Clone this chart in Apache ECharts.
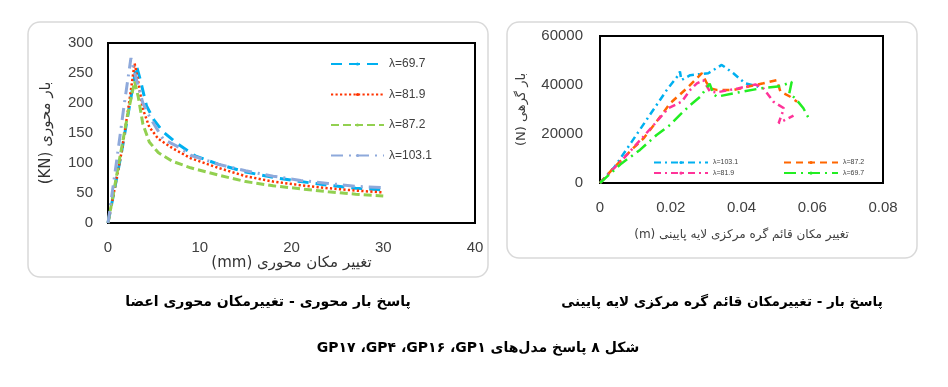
<!DOCTYPE html>
<html><head><meta charset="utf-8">
<script src="https://cdn.jsdelivr.net/npm/echarts@6/dist/echarts.min.js"></script>
<style>html,body{margin:0;padding:0;background:#fff}#c{width:948px;height:387px}</style>
</head><body><div id="c"></div>
<script>
// ---------- Left chart: axial load vs axial displacement ----------
const leftNames = ['λ=69.7', 'λ=81.9', 'λ=87.2', 'λ=103.1'];
const leftXTicks = [0, 10, 20, 30, 40];
const leftYTicks = [0, 50, 100, 150, 200, 250, 300];
const axial697 = [[0,0],[0.7,55],[1.5,120],[2.4,200],[3.1,262],[3.5,240],[4.2,195],[5,172],[6,152],[7.5,133],[9.5,112],[12,98],[15,85],[18,76],[21,69],[24,63],[27,58],[30,55]];
const axial819 = [[0,0],[0.7,55],[1.5,120],[2.3,200],[2.9,266],[3.3,235],[3.8,190],[4.5,160],[5.5,140],[7,125],[9,108],[12,92],[15,78],[18,69],[21,63],[24,58],[27,54],[30,51]];
const axial872 = [[0,0],[0.6,50],[1.3,110],[2.2,185],[2.9,236],[3.3,210],[3.8,165],[4.5,135],[5.5,117],[7,103],[9,92],[12,80],[15,69],[18,62],[21,57],[24,52],[27,48],[30,45]];
const axial1031 = [[0,0],[0.5,55],[1,110],[1.7,190],[2.5,275],[3,245],[3.8,200],[4.6,175],[6,140],[7.5,128],[9,113],[12,98],[15,87],[18,78],[21,71],[24,66],[27,61],[30,59]];

// ---------- Right chart: node load vs vertical displacement ----------
const rightNames = ['λ=103.1', 'λ=87.2', 'λ=81.9', 'λ=69.7'];
const rightXTicks = [0, 0.02, 0.04, 0.06, 0.08];
const rightYTicks = [0, 20000, 40000, 60000];
const node1031 = [[0,0],[0.0015,2500],[0.0042,6700],[0.009,16900],[0.0141,27800],[0.0189,38000],[0.0222,44100],[0.0226,45500],[0.023,42000],[0.0255,44000],[0.0306,44800],[0.0344,48200],[0.0377,44800],[0.041,40700],[0.0447,39300]];
const node872 = [[0,0],[0.0042,6700],[0.0094,14200],[0.0123,18200],[0.017,27000],[0.0198,32500],[0.0245,38600],[0.0288,44800],[0.030,41300],[0.0311,38600],[0.033,38000],[0.0377,38000],[0.0462,40700],[0.05,42000],[0.051,37300],[0.0538,35200],[0.0557,33200]];
const node819 = [[0,0],[0.0071,10700],[0.0118,18200],[0.016,25000],[0.0193,30500],[0.0231,33200],[0.0255,38000],[0.0274,40700],[0.0292,42000],[0.0311,37300],[0.033,37000],[0.039,38600],[0.0439,40200],[0.046,39000],[0.049,33200],[0.052,30500],[0.0505,24400],[0.0547,27500]];
const node697 = [[0,0],[0.0061,8000],[0.0113,13500],[0.016,19600],[0.0198,23700],[0.0226,27800],[0.0255,31800],[0.0283,35200],[0.031,40500],[0.032,36500],[0.033,35200],[0.0377,36600],[0.0453,38600],[0.051,39500],[0.0542,41300],[0.0535,36500],[0.0552,34600],[0.0575,30500],[0.059,26400]];

// ---------- Texts ----------
const leftXName = 'تغییر مکان محوری (mm)';
const leftYName = 'بار محوری (KN)';
const rightXName = 'تغییر مکان قائم گره مرکزی لایه پایینی (m)';
const rightYName = 'بار گرهی (N)';
const capLeft = 'پاسخ بار محوری - تغییرمکان محوری اعضا';
const capRight = 'پاسخ بار - تغییرمکان قائم گره مرکزی لایه پایینی';
const capMain = 'شکل ۸ پاسخ مدل‌های GP۱\u200F، GP۱۶\u200F، GP۴\u200F، GP۱۷';

const RTL = s => '\u202B' + s + '\u202C';
const ZW = '\u200B';
const numFont = 'Liberation Sans';
const faFont = 'DejaVu Sans';

const chart = echarts.init(document.getElementById('c'), null, {renderer: 'canvas'});

function axisCommon(fontSize, margin) {
  return {
    axisLine: {show: false}, axisTick: {show: false}, splitLine: {show: false},
    axisLabel: {fontSize: fontSize, color: '#404040', fontFamily: numFont, margin: margin, formatter: v => String(v)}
  };
}

const leftStyles = [
  {color: '#00B0F0', width: 3, type: [11, 7]},
  {color: '#FF3300', width: 2.5, type: [2.2, 2.3]},
  {color: '#92D050', width: 3, type: [8, 4]},
  {color: '#8EA9DB', width: 3, type: [12, 6, 2, 6]}
];
const leftData = [axial697, axial819, axial872, axial1031];
const rightStyles = [
  {color: '#00B0F0', width: 2.5, type: [7, 4, 2, 4]},
  {color: '#FF6600', width: 2.5, type: [7, 5]},
  {color: '#FF3399', width: 2.5, type: [7, 4, 2, 4]},
  {color: '#22EE22', width: 2.5, type: [12, 5, 2, 5]}
];
const rightData = [node1031, node872, node819, node697];

const series = [];
leftNames.forEach((n, i) => series.push({
  type: 'line', name: n, xAxisIndex: 0, yAxisIndex: 0, data: leftData[i],
  symbol: 'none', lineStyle: leftStyles[i], itemStyle: {color: leftStyles[i].color}, animation: false
}));
rightNames.forEach((n, i) => series.push({
  type: 'line', name: n + ZW, xAxisIndex: 1, yAxisIndex: 1, data: rightData[i],
  symbol: 'none', lineStyle: rightStyles[i], itemStyle: {color: rightStyles[i].color}, animation: false
}));

const option = {
  animation: false,
  backgroundColor: '#fff',
  grid: [
    {left: 108, top: 43, width: 367, height: 180, show: true, borderColor: '#000', borderWidth: 2, backgroundColor: '#fff', containLabel: false, outerBoundsMode: 'none'},
    {left: 600, top: 36, width: 283, height: 147, show: true, borderColor: '#000', borderWidth: 2, backgroundColor: '#fff', containLabel: false, outerBoundsMode: 'none'}
  ],
  xAxis: [
    Object.assign(axisCommon(15, 17), {type: 'value', gridIndex: 0, min: leftXTicks[0], max: leftXTicks[leftXTicks.length-1], interval: leftXTicks[1]-leftXTicks[0],
      name: RTL(leftXName), nameLocation: 'middle', nameGap: 27,
      nameTextStyle: {fontSize: 15, color: '#333', fontFamily: faFont}}),
    Object.assign(axisCommon(15, 17), {type: 'value', gridIndex: 1, min: rightXTicks[0], max: rightXTicks[rightXTicks.length-1], interval: rightXTicks[1]-rightXTicks[0],
      name: RTL(rightXName), nameLocation: 'middle', nameGap: 46,
      nameTextStyle: {fontSize: 12, color: '#404040', fontFamily: faFont}})
  ],
  yAxis: [
    Object.assign(axisCommon(15, 15), {type: 'value', gridIndex: 0, min: leftYTicks[0], max: leftYTicks[leftYTicks.length-1], interval: leftYTicks[1]-leftYTicks[0],
      name: RTL(leftYName), nameLocation: 'middle', nameRotate: 90, nameGap: 54,
      nameTextStyle: {fontSize: 15, color: '#333', fontFamily: faFont}}),
    Object.assign(axisCommon(15, 17), {type: 'value', gridIndex: 1, min: rightYTicks[0], max: rightYTicks[rightYTicks.length-1], interval: rightYTicks[1]-rightYTicks[0],
      name: RTL(rightYName), nameLocation: 'middle', nameRotate: 90, nameGap: 72,
      nameTextStyle: {fontSize: 13, color: '#404040', fontFamily: faFont}})
  ],
  legend: [
    {data: leftNames, orient: 'vertical', left: 325, top: 53, itemWidth: 53, itemHeight: 4, itemGap: 18.5,
     selectedMode: false, textStyle: {fontSize: 12, color: '#404040', fontFamily: numFont}},
    {data: [rightNames[0] + ZW, rightNames[2] + ZW], orient: 'vertical', left: 648, top: 154, itemWidth: 54, itemHeight: 4, itemGap: 3.6,
     selectedMode: false, formatter: n => n.replace(ZW, ''), textStyle: {fontSize: 7, color: '#404040', fontFamily: numFont}},
    {data: [rightNames[1] + ZW, rightNames[3] + ZW], orient: 'vertical', left: 778, top: 154, itemWidth: 54, itemHeight: 4, itemGap: 3.6,
     selectedMode: false, formatter: n => n.replace(ZW, ''), textStyle: {fontSize: 7, color: '#404040', fontFamily: numFont}}
  ],
  graphic: [
    {type: 'rect', z: -10, shape: {x: 28, y: 22, width: 460, height: 255, r: 12}, style: {fill: 'none', stroke: '#d9d9d9', lineWidth: 1.5}},
    {type: 'rect', z: -10, shape: {x: 507, y: 22, width: 410, height: 236, r: 12}, style: {fill: 'none', stroke: '#d9d9d9', lineWidth: 1.5}},
    {type: 'text', x: 268, y: 302, style: {text: RTL(capLeft), fontSize: 14, fontWeight: 'bold', fontFamily: faFont, fill: '#000', align: 'center', verticalAlign: 'middle'}},
    {type: 'text', x: 722, y: 302, style: {text: RTL(capRight), fontSize: 13.5, fontWeight: 'bold', fontFamily: faFont, fill: '#000', align: 'center', verticalAlign: 'middle'}},
    {type: 'text', x: 478, y: 348, style: {text: RTL(capMain), fontSize: 14, fontWeight: 'bold', fontFamily: faFont, fill: '#000', align: 'center', verticalAlign: 'middle'}}
  ],
  series: series
};
chart.setOption(option);
</script></body></html>
